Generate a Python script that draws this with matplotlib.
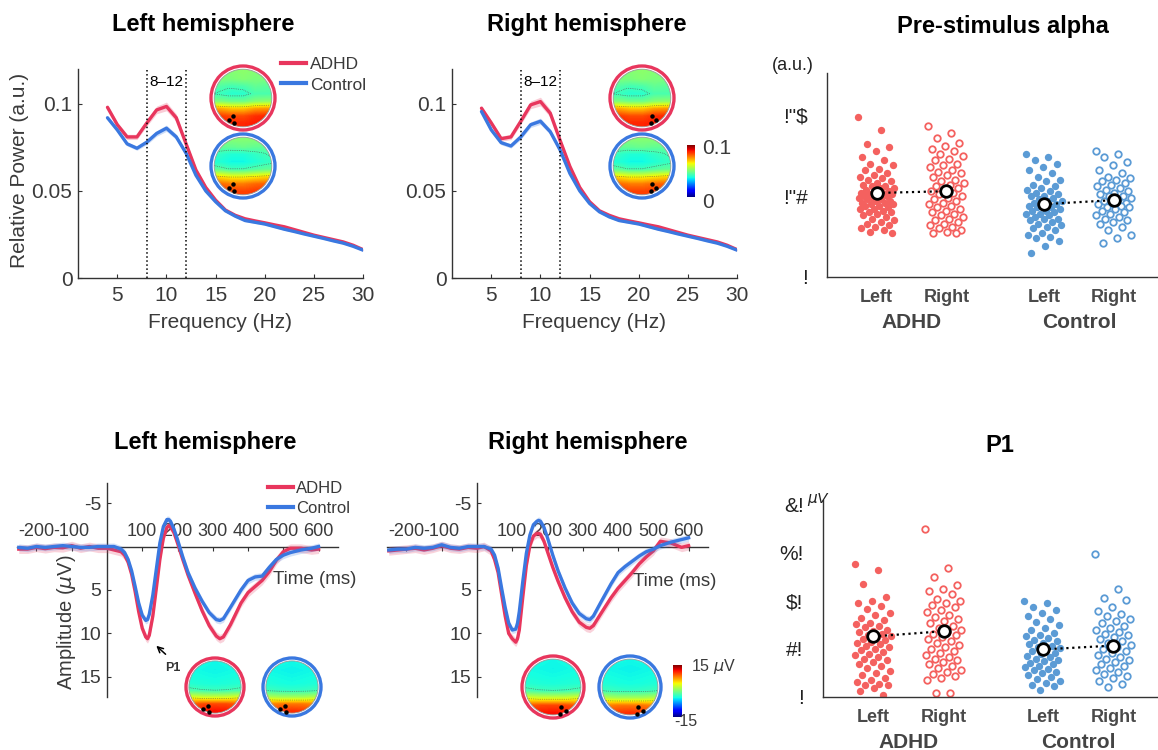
import numpy as np
import matplotlib
matplotlib.use("Agg")
import matplotlib.pyplot as plt
from matplotlib.patches import Circle
from matplotlib.lines import Line2D
from matplotlib.cm import ScalarMappable
from matplotlib.colors import Normalize

plt.rcParams['font.family'] = ['Liberation Sans', 'DejaVu Sans']
plt.rcParams['axes.unicode_minus'] = False

# ---- spectra (relative power, a.u.) ----
freqs = np.arange(4, 31)
left_adhd = [0.098, 0.088, 0.081, 0.081, 0.089, 0.0965, 0.0985, 0.092, 0.077, 0.062,
             0.052, 0.0447, 0.039, 0.036, 0.034, 0.0328, 0.0317, 0.0305, 0.0294, 0.0278,
             0.0262, 0.0246, 0.0233, 0.022, 0.0207, 0.0188, 0.0163]
left_ctrl = [0.092, 0.085, 0.077, 0.0745, 0.078, 0.083, 0.086, 0.081, 0.0716, 0.059,
             0.050, 0.0438, 0.0386, 0.0355, 0.033, 0.032, 0.031, 0.0295, 0.028, 0.0267,
             0.0253, 0.024, 0.0227, 0.0213, 0.020, 0.0182, 0.016]
right_adhd = [0.0975, 0.089, 0.080, 0.081, 0.090, 0.0994, 0.1013, 0.0946, 0.079, 0.064,
              0.052, 0.0438, 0.0386, 0.036, 0.034, 0.0328, 0.0317, 0.0305, 0.0294, 0.0278,
              0.0262, 0.0246, 0.0233, 0.022, 0.0207, 0.0188, 0.0163]
right_ctrl = [0.0956, 0.085, 0.0777, 0.0758, 0.081, 0.088, 0.090, 0.084, 0.0735, 0.060,
              0.050, 0.0428, 0.038, 0.0351, 0.033, 0.032, 0.031, 0.0295, 0.028, 0.0267,
              0.0253, 0.024, 0.0227, 0.0213, 0.020, 0.0182, 0.016]
sem_adhd = [0.0015, 0.0015, 0.0015, 0.0015, 0.0018, 0.0022, 0.0025, 0.0022, 0.0018, 0.0014,
            0.001, 0.001, 0.0008, 0.0008, 0.0007, 0.0007, 0.0007, 0.0007, 0.0007, 0.0006,
            0.0006, 0.0006, 0.0006, 0.0006, 0.0006, 0.0006, 0.0006]
sem_ctrl = [0.0012, 0.0012, 0.0012, 0.0012, 0.0014, 0.0016, 0.0018, 0.0016, 0.0014, 0.0012,
            0.0009, 0.0008, 0.0007, 0.0007, 0.0006, 0.0006, 0.0006, 0.0006, 0.0006, 0.0005,
            0.0005, 0.0005, 0.0005, 0.0005, 0.0005, 0.0005, 0.0005]

# ---- ERPs (uV, positive down) ----
times = [-250, -225, -200, -175, -150, -125, -100, -75, -50, -25, 0, 20, 40, 50, 60, 70, 80,
         90, 100, 110, 115, 120, 130, 140, 150, 160, 170, 175, 180, 190, 200, 215, 230, 250,
         270, 290, 310, 320, 330, 350, 380, 400, 420, 440, 460, 480, 500, 520, 550, 580, 600]
erp_left_adhd = [0.3, 0.3, 0.1, 0.25, 0.1, 0.15, -0.1, 0.2, 0.0, 0.2, 0.2, 0.4, 0.6, 1.0, 1.8,
                 3.2, 5.2, 7.5, 9.4, 10.4, 10.6, 10.2, 8.0, 4.8, 1.5, -1.0, -2.2, -2.4, -2.3,
                 -1.6, -0.4, 1.5, 3.3, 5.4, 7.4, 9.1, 10.3, 10.6, 10.4, 9.0, 6.5, 5.3, 4.6,
                 3.9, 2.9, 1.6, 0.6, 0.2, 0.2, 0.4, 0.3]
erp_left_ctrl = [0.1, 0.2, 0.0, 0.1, 0.0, -0.1, 0.0, 0.1, 0.1, 0.0, 0.0, 0.0, 0.3, 0.7, 1.5,
                 2.8, 4.6, 6.5, 7.9, 8.5, 8.4, 7.8, 5.6, 2.6, -0.4, -2.3, -3.1, -3.1, -2.9,
                 -2.0, -0.8, 1.2, 3.0, 4.8, 6.3, 7.6, 8.4, 8.5, 8.3, 7.0, 5.0, 3.9, 3.5,
                 3.4, 2.4, 1.5, 1.0, 0.7, 0.4, 0.2, 0.0]
erp_right_adhd = [0.5, 0.4, 0.3, 0.2, 0.4, 0.2, -0.1, 0.2, 0.3, 0.1, 0.2, 0.0, 0.5, 1.5, 3.0,
                  5.5, 8.0, 10.0, 10.6, 11.0, 10.6, 9.6, 5.8, 2.2, -0.1, -1.2, -1.5, -1.5,
                  -1.4, -0.6, 0.6, 2.4, 4.0, 5.9, 7.5, 8.7, 9.3, 9.4, 9.1, 7.8, 5.9, 4.8,
                  3.9, 3.0, 2.0, 1.2, 0.5, -0.6, -0.4, 0.1, -0.1]
erp_right_ctrl = [0.4, 0.3, 0.3, 0.1, 0.2, 0.1, -0.2, 0.1, 0.2, 0.0, 0.0, 0.0, 0.3, 1.0, 2.5,
                  4.8, 7.0, 8.8, 9.6, 9.5, 8.8, 7.5, 4.0, 0.8, -1.3, -2.5, -2.9, -3.0, -2.9,
                  -2.2, -1.0, 1.0, 2.8, 4.8, 6.5, 7.7, 8.3, 8.4, 8.0, 6.5, 4.3, 3.0, 2.3,
                  1.7, 1.1, 0.6, 0.3, -0.1, -0.5, -0.8, -1.0]
erp_sem_adhd = 0.5
erp_sem_ctrl = 0.4

# ---- individual subjects ----
alpha_adhd_left = [0.099, 0.091, 0.082, 0.080, 0.078, 0.074, 0.072, 0.070, 0.069, 0.067, 0.066,
                   0.064, 0.063, 0.062, 0.061, 0.060, 0.059, 0.058, 0.057, 0.056, 0.056, 0.055,
                   0.055, 0.054, 0.053, 0.053, 0.052, 0.052, 0.051, 0.051, 0.050, 0.050, 0.050,
                   0.049, 0.049, 0.048, 0.048, 0.047, 0.047, 0.046, 0.046, 0.045, 0.045, 0.044,
                   0.044, 0.043, 0.042, 0.042, 0.041, 0.040, 0.040, 0.039, 0.038, 0.037, 0.036,
                   0.035, 0.034, 0.033, 0.032, 0.031, 0.030, 0.029, 0.028, 0.027]
alpha_adhd_right = [0.093, 0.089, 0.086, 0.083, 0.081, 0.079, 0.078, 0.076, 0.075, 0.073, 0.072,
                    0.070, 0.069, 0.068, 0.066, 0.065, 0.064, 0.063, 0.062, 0.060, 0.059, 0.058,
                    0.057, 0.056, 0.055, 0.054, 0.053, 0.052, 0.051, 0.050, 0.049, 0.048, 0.047,
                    0.046, 0.045, 0.044, 0.043, 0.042, 0.041, 0.040, 0.039, 0.038, 0.037, 0.036,
                    0.035, 0.034, 0.033, 0.032, 0.031, 0.030, 0.029, 0.028, 0.027, 0.027]
alpha_ctrl_left = [0.076, 0.074, 0.072, 0.070, 0.068, 0.066, 0.064, 0.062, 0.060, 0.059, 0.057,
                   0.056, 0.055, 0.054, 0.053, 0.052, 0.051, 0.050, 0.050, 0.049, 0.048, 0.047,
                   0.047, 0.046, 0.045, 0.045, 0.044, 0.043, 0.043, 0.042, 0.041, 0.041, 0.040,
                   0.039, 0.039, 0.038, 0.037, 0.036, 0.036, 0.035, 0.034, 0.033, 0.032, 0.031,
                   0.030, 0.029, 0.027, 0.026, 0.025, 0.024, 0.022, 0.019, 0.015]
alpha_ctrl_right = [0.078, 0.076, 0.074, 0.071, 0.069, 0.066, 0.064, 0.062, 0.061, 0.060, 0.059,
                    0.058, 0.057, 0.056, 0.055, 0.054, 0.053, 0.052, 0.051, 0.050, 0.050, 0.049,
                    0.048, 0.047, 0.046, 0.046, 0.045, 0.044, 0.043, 0.043, 0.042, 0.041, 0.040,
                    0.039, 0.038, 0.037, 0.036, 0.035, 0.034, 0.033, 0.031, 0.029, 0.026, 0.024,
                    0.021]
alpha_means = [0.0519, 0.053, 0.045, 0.0475]

p1_adhd_left = [27.7, 26.5, 23.5, 20.8, 20.0, 19.5, 19.0, 18.3, 17.5, 17.0, 16.5, 16.0, 15.5,
                15.2, 14.8, 14.5, 14.0, 13.8, 13.5, 13.2, 13.0, 12.7, 12.4, 12.1, 11.8, 11.5,
                11.2, 11.0, 10.7, 10.4, 10.0, 9.7, 9.4, 9.0, 8.7, 8.3, 8.0, 7.6, 7.2, 6.8, 6.4,
                6.0, 5.5, 5.0, 4.5, 4.0, 3.6, 3.2, 2.8, 2.5, 2.4, 1.8, 1.2, 0.4]
p1_adhd_right = [35.0, 26.8, 25.0, 23.3, 22.5, 22.0, 21.5, 20.5, 20.0, 19.6, 19.2, 18.8, 18.2,
                 17.6, 17.0, 16.6, 16.2, 15.8, 15.3, 14.8, 14.4, 14.0, 13.6, 13.2, 12.8, 12.4,
                 12.0, 11.6, 11.2, 10.8, 10.4, 10.0, 9.6, 9.2, 8.8, 8.4, 8.0, 7.6, 7.2, 6.8, 6.4,
                 6.0, 5.6, 5.2, 4.8, 4.4, 4.0, 3.6, 0.8, 0.8]
p1_ctrl_left = [20.0, 19.6, 18.8, 18.2, 17.5, 16.8, 16.2, 15.6, 15.0, 14.4, 13.9, 13.4, 13.0,
                12.6, 12.2, 11.9, 11.6, 11.3, 11.0, 10.7, 10.4, 10.1, 9.8, 9.5, 9.2, 8.9, 8.6,
                8.3, 8.0, 7.7, 7.4, 7.1, 6.8, 6.5, 6.2, 5.9, 5.6, 5.3, 5.0, 4.6, 4.2, 3.8, 3.4,
                3.0, 2.6, 2.2, 1.4]
p1_ctrl_right = [29.8, 22.5, 20.7, 20.2, 18.8, 18.0, 17.3, 16.8, 16.3, 15.8, 15.3, 14.8, 14.4,
                 14.0, 13.6, 13.2, 12.8, 12.4, 12.0, 11.6, 11.2, 10.8, 10.4, 10.0, 9.6, 9.2, 8.8,
                 8.4, 8.0, 7.6, 7.2, 6.8, 6.4, 6.0, 5.6, 5.2, 4.8, 4.4, 4.0, 3.4, 2.8, 2.1]
p1_means = [12.6, 13.7, 9.9, 10.7]

cond_labels = ['Left', 'Right', 'Left', 'Right']
group_labels = ['ADHD', 'Control']
alpha_ticks = [0, 0.05, 0.1]
alpha_ticklabels = ['!', '!"#', '!"$']
p1_ticks = [0, 10, 20, 30, 40]
p1_ticklabels = ['!', '#!', '$!', '%!', '&!']

# topography grids (rows front -> back of the head)
topo_alpha_adhd = [[0.050, 0.051, 0.052, 0.051, 0.050],
                   [0.050, 0.050, 0.051, 0.050, 0.050],
                   [0.045, 0.043, 0.044, 0.047, 0.046],
                   [0.042, 0.040, 0.040, 0.044, 0.044],
                   [0.050, 0.048, 0.048, 0.051, 0.052],
                   [0.073, 0.070, 0.070, 0.074, 0.075],
                   [0.085, 0.083, 0.083, 0.086, 0.087],
                   [0.088, 0.087, 0.087, 0.088, 0.089]]
topo_alpha_ctrl = [[0.050, 0.051, 0.051, 0.051, 0.050],
                   [0.047, 0.047, 0.048, 0.047, 0.047],
                   [0.041, 0.039, 0.039, 0.041, 0.043],
                   [0.039, 0.037, 0.037, 0.039, 0.041],
                   [0.046, 0.043, 0.043, 0.045, 0.047],
                   [0.067, 0.064, 0.064, 0.066, 0.068],
                   [0.080, 0.078, 0.078, 0.080, 0.081],
                   [0.085, 0.084, 0.084, 0.085, 0.086]]
topo_p1_adhd = [[-3.8, -3.8, -3.9, -3.8, -3.8],
                [-3.8, -3.9, -4.0, -3.9, -3.8],
                [-3.6, -3.7, -3.8, -3.7, -3.6],
                [-3.2, -3.4, -3.5, -3.4, -3.2],
                [-1.8, -2.2, -2.3, -2.2, -1.8],
                [3.5, 3.0, 3.0, 3.0, 3.5],
                [9.5, 10.0, 10.0, 10.0, 9.5],
                [11.0, 11.5, 11.8, 11.5, 11.0]]
topo_p1_ctrl = [[-3.8, -3.8, -3.9, -3.8, -3.8],
                [-3.9, -4.0, -4.1, -4.0, -3.9],
                [-3.7, -3.8, -3.9, -3.8, -3.7],
                [-3.4, -3.6, -3.7, -3.6, -3.4],
                [-2.3, -2.6, -2.7, -2.6, -2.3],
                [2.0, 1.5, 1.5, 1.5, 2.0],
                [8.0, 8.5, 8.5, 8.5, 8.0],
                [10.0, 10.5, 10.8, 10.5, 10.0]]

RED = '#e8365d'
BLUE = '#3a78e0'
DOT_RED = '#f4615f'
DOT_BLUE = '#5b9bd5'
TXT = '#3a3a3a'

W, H = 1158, 750
fig = plt.figure(figsize=(W / 100, H / 100), dpi=100)


def add_ax(l, t, r, b):
    return fig.add_axes([l / W, 1 - b / H, (r - l) / W, (b - t) / H])


def ftext(x, y, s, **kw):
    return fig.text(x / W, 1 - y / H, s, **kw)


def style_axis(ax, size):
    for sp in ax.spines.values():
        sp.set_color('#333333')
        sp.set_linewidth(1.0)
    ax.tick_params(colors='#333333', labelcolor=TXT, labelsize=size, direction='in', length=3)


def spectrum_panel(box, adhd, ctrl):
    ax = add_ax(*box)
    adhd = np.array(adhd)
    ctrl = np.array(ctrl)
    ax.fill_between(freqs, adhd - np.array(sem_adhd), adhd + np.array(sem_adhd),
                    color=RED, alpha=0.25, lw=0)
    ax.plot(freqs, adhd, color=RED, lw=2.4, solid_capstyle='round')
    ax.fill_between(freqs, ctrl - np.array(sem_ctrl), ctrl + np.array(sem_ctrl),
                    color=BLUE, alpha=0.25, lw=0)
    ax.plot(freqs, ctrl, color=BLUE, lw=2.4, solid_capstyle='round')
    for f in (8, 12):
        ax.axvline(f, color='k', ls=':', lw=1.1)
    ax.text(10, 0.1125, '8\u201312', ha='center', va='center', fontsize=11)
    ax.set_xlim(1, 30)
    ax.set_ylim(0, 0.12)
    ax.set_xticks([5, 10, 15, 20, 25, 30])
    ax.set_yticks([0, 0.05, 0.1])
    ax.set_yticklabels(['0', '0.05', '0.1'])
    ax.spines['top'].set_visible(False)
    ax.spines['right'].set_visible(False)
    style_axis(ax, 15)
    ax.tick_params(axis='x', pad=6)
    ax.tick_params(axis='y', pad=4)
    ftext((box[0] + box[2]) / 2, 322, 'Frequency (Hz)', ha='center', va='center',
          fontsize=15, color=TXT)
    return ax


def erp_panel(box, adhd, ctrl):
    ax = add_ax(*box)
    adhd = np.array(adhd)
    ctrl = np.array(ctrl)
    ax.fill_between(times, adhd - erp_sem_adhd, adhd + erp_sem_adhd, color=RED, alpha=0.22,
                    lw=0, zorder=3)
    ax.plot(times, adhd, color=RED, lw=2.4, zorder=3)
    ax.fill_between(times, ctrl - erp_sem_ctrl, ctrl + erp_sem_ctrl, color=BLUE, alpha=0.22,
                    lw=0, zorder=3)
    ax.plot(times, ctrl, color=BLUE, lw=2.4, zorder=3)
    ax.set_xlim(-255, 655)
    ax.set_ylim(17.3, -7.3)
    ax.spines['left'].set_position(('data', 0))
    ax.spines['top'].set_position(('data', 0))
    ax.spines['bottom'].set_visible(False)
    ax.spines['right'].set_visible(False)
    ax.xaxis.tick_top()
    ax.set_xticks([-200, -100, 100, 200, 300, 400, 500, 600])
    ax.set_yticks([-5, 5, 10, 15])
    style_axis(ax, 14)
    ax.tick_params(axis='x', pad=5, labelsize=13)
    ax.tick_params(axis='y', pad=4)
    ax.patch.set_alpha(0)
    return ax


def scatter_panel(box, groups, means, ylim, ticks, ticklabels, label_y, group_y):
    ax = add_ax(*box)
    pos = [1, 2, 3.4, 4.4]
    colors = [DOT_RED, DOT_RED, DOT_BLUE, DOT_BLUE]
    filled = [True, False, True, False]
    for p, vals, c, fl in zip(pos, groups, colors, filled):
        n = len(vals)
        jit = ((np.arange(n) * 0.6180339) % 1 - 0.5) * 0.52
        if fl:
            ax.scatter(p + jit, vals, s=28, color=c, lw=0, zorder=2)
        else:
            ax.scatter(p + jit, vals, s=22, facecolor='white', edgecolor=c, lw=1.3, zorder=2)
    for i in (0, 2):
        ax.plot(pos[i:i + 2], means[i:i + 2], color='k', ls=':', lw=1.6, zorder=4)
        ax.scatter(pos[i:i + 2], means[i:i + 2], s=70, facecolor='white', edgecolor='k',
                   lw=2, zorder=5)
    ax.set_xlim(0.29, 5.03)
    ax.set_ylim(*ylim)
    ax.set_yticks(ticks)
    ax.set_yticklabels(ticklabels)
    ax.set_xticks([])
    ax.spines['top'].set_visible(False)
    ax.spines['right'].set_visible(False)
    style_axis(ax, 15)
    ax.tick_params(axis='y', length=0, pad=14, labelcolor='#222222')
    for p, lab in zip(pos, cond_labels):
        ftext(box[0] + (p - 0.29) / (5.03 - 0.29) * (box[2] - box[0]), label_y, lab,
              ha='center', va='center', fontsize=13, weight='bold', color='#4a4a4a')
    for k, lab in enumerate(group_labels):
        cx = (pos[2 * k] + pos[2 * k + 1]) / 2
        ftext(box[0] + (cx - 0.29) / (5.03 - 0.29) * (box[2] - box[0]), group_y, lab,
              ha='center', va='center', fontsize=15, weight='bold', color='#444444')
    return ax


def topo(cx, cy, r, grid, vmin, vmax, ring, dots):
    s = r * 1.1
    ax = add_ax(cx - s, cy - s, cx + s, cy + s)
    ext = (-0.92, 0.92, -0.92, 0.92)
    im = ax.imshow(grid, cmap='jet', vmin=vmin, vmax=vmax, extent=ext,
                   interpolation='bilinear')
    clip = Circle((0, 0), 0.9, transform=ax.transData)
    im.set_clip_path(clip)
    g = np.array(grid)
    span = vmax - vmin
    cs = ax.contour(g[::-1], levels=[vmin + 0.42 * span, vmin + 0.6 * span],
                    extent=ext, colors='#555555', linewidths=0.5, linestyles=':')
    cs.set_clip_path(clip)
    ax.add_patch(Circle((0, 0), 0.9, fill=False, ec='#9a9a9a', lw=0.6))
    ax.add_patch(Circle((0, 0), 1.0, fill=False, ec=ring, lw=2.4))
    dx, dy = zip(*dots)
    ax.plot(dx, dy, 'o', color='k', ms=2.2)
    ax.set_xlim(-1.1, 1.1)
    ax.set_ylim(-1.1, 1.1)
    ax.axis('off')


def colorbar(box, labels, size):
    cax = add_ax(*box)
    cb = fig.colorbar(ScalarMappable(Normalize(0, 1), 'jet'), cax=cax)
    cb.set_ticks([])
    cb.outline.set_visible(False)
    for text, x, y in labels:
        ftext(x, y, text, ha='left', va='center', fontsize=size, color=TXT)


TITLE = dict(ha='center', va='center', fontsize=17, weight='bold')

# ---- top row: spectra ----
spectrum_panel((78, 69, 363, 278), left_adhd, left_ctrl)
spectrum_panel((452, 69, 737, 278), right_adhd, right_ctrl)
ftext(20, 170, 'Relative Power (a.u.)', rotation=90, ha='center', va='center',
      fontsize=15, color=TXT)
ftext(203, 25, 'Left hemisphere', **TITLE)
ftext(587, 25, 'Right hemisphere', **TITLE)

handles = [Line2D([], [], color=RED, lw=3), Line2D([], [], color=BLUE, lw=3)]
fig.legend(handles, ['ADHD', 'Control'], loc='upper left', bbox_to_anchor=(281 / W, 1 - 57 / H),
           frameon=False, fontsize=12.5, handlelength=1.45, handletextpad=0.2, labelspacing=0.3,
           borderpad=0, borderaxespad=0, labelcolor=TXT)

left_dots = [(-0.44, -0.68), (-0.31, -0.57), (-0.28, -0.78)]
right_dots = [(-x, y) for x, y in left_dots]
topo(243, 98, 32, topo_alpha_adhd, 0, 0.1, RED, left_dots)
topo(243, 166, 32, topo_alpha_ctrl, 0, 0.1, BLUE, left_dots)
topo(642, 98, 32, topo_alpha_adhd, 0, 0.1, RED, right_dots)
topo(642, 166, 32, topo_alpha_ctrl, 0, 0.1, BLUE, right_dots)
colorbar((687, 145, 695, 197), [('0.1', 702, 149), ('0', 702, 202)], 15)

# ---- top right: pre-stimulus alpha ----
scatter_panel((827, 73, 1158, 277),
              [alpha_adhd_left, alpha_adhd_right, alpha_ctrl_left, alpha_ctrl_right],
              alpha_means, (0, 0.126), alpha_ticks, alpha_ticklabels, 297, 323)
ftext(1003, 27, 'Pre-stimulus alpha', **TITLE)
ftext(793, 65, '(a.u.)', ha='center', va='center', fontsize=13, color='#222222')

# ---- bottom row: ERPs ----
axl = erp_panel((17, 483, 338, 697), erp_left_adhd, erp_left_ctrl)
erp_panel((387, 483, 708, 697), erp_right_adhd, erp_right_ctrl)
ftext(67, 622, r'Amplitude ($\mu$V)', rotation=90, ha='center', va='center', fontsize=14.5,
      color=TXT)
ftext(273, 580, 'Time (ms)', ha='left', va='center', fontsize=13.5, color=TXT)
ftext(633, 582, 'Time (ms)', ha='left', va='center', fontsize=13.5, color=TXT)
ftext(205, 443, 'Left hemisphere', **TITLE)
ftext(588, 443, 'Right hemisphere', **TITLE)
axl.annotate('', xy=(134, 11.2), xytext=(172, 12.6),
             arrowprops=dict(arrowstyle='->', color='k', lw=1.1), zorder=5)
ftext(173, 668, 'P1', ha='center', va='center', fontsize=9, weight='bold', color='#333333')
fig.legend(handles, ['ADHD', 'Control'], loc='upper left', bbox_to_anchor=(268 / W, 1 - 481 / H),
           frameon=False, fontsize=12, handlelength=1.5, handletextpad=0.2, labelspacing=0.3,
           borderpad=0, borderaxespad=0, labelcolor=TXT)

p1_left_dots = [(-0.25, -0.66), (-0.42, -0.76), (-0.22, -0.86)]
p1_right_dots = [(-x, y) for x, y in p1_left_dots]
topo(215, 687, 29, topo_p1_adhd, -15, 15, RED, p1_left_dots)
topo(292, 687, 29, topo_p1_ctrl, -15, 15, BLUE, p1_left_dots)
topo(553, 687, 31, topo_p1_adhd, -15, 15, RED, p1_right_dots)
topo(630, 687, 31, topo_p1_ctrl, -15, 15, BLUE, p1_right_dots)
colorbar((673, 665, 682, 717), [(r'15 $\mu$V', 691, 667), ('-15', 674, 721)], 11.5)

# ---- bottom right: P1 ----
scatter_panel((823, 500, 1158, 697),
              [p1_adhd_left, p1_adhd_right, p1_ctrl_left, p1_ctrl_right],
              p1_means, (0, 41), p1_ticks, p1_ticklabels, 717, 742)
ftext(1000, 445, 'P1', **TITLE)
ftext(807, 500, r'$\mu$V', ha='left', va='center', fontsize=11, style='italic',
      color='#222222')

fig.savefig('out.png', dpi=100)
